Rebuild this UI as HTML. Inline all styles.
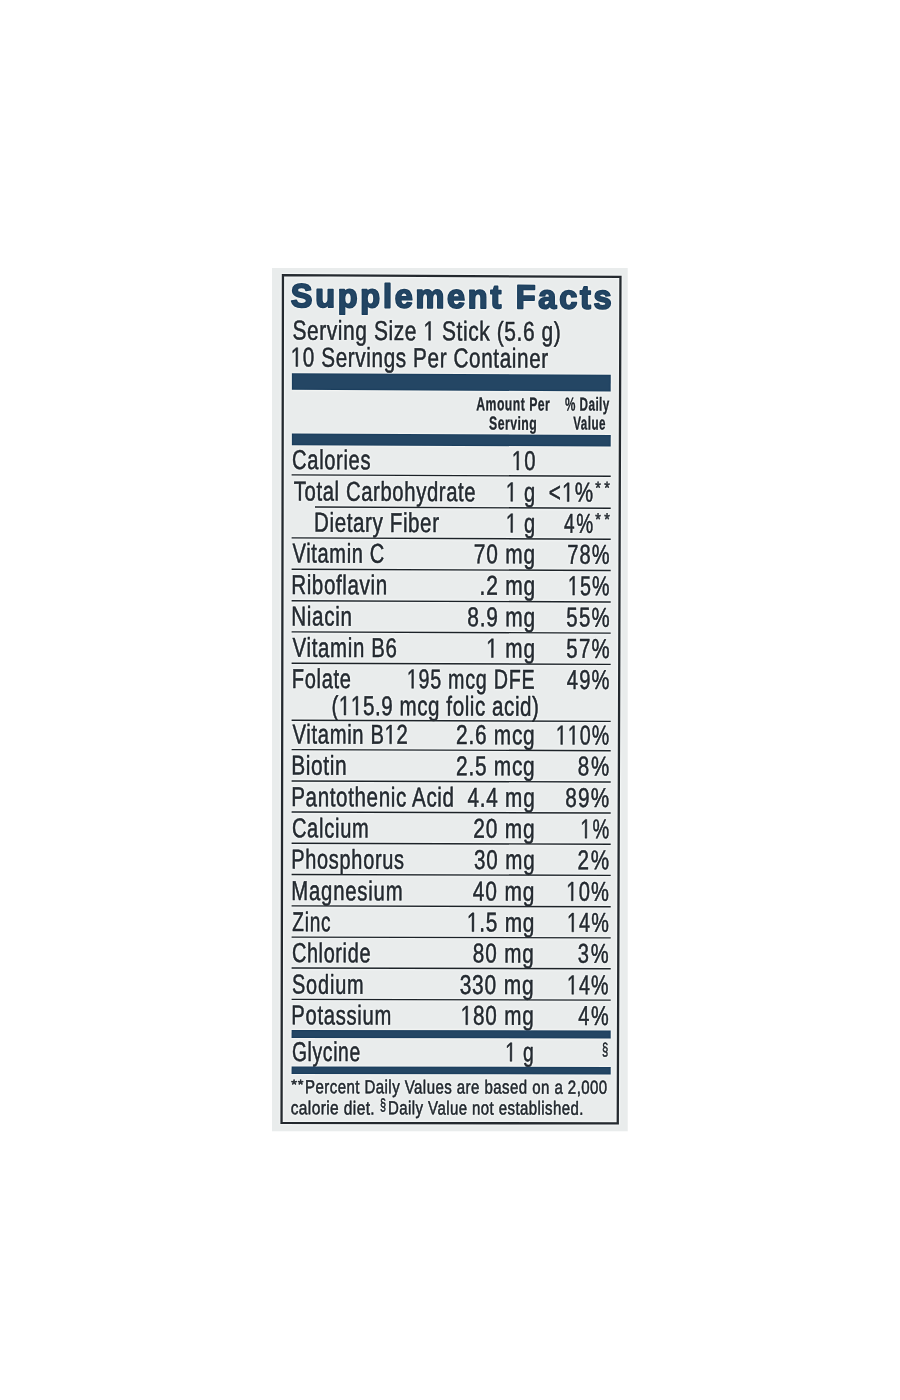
<!DOCTYPE html>
<html><head><meta charset="utf-8"><style>
html,body{margin:0;padding:0;background:#ffffff;width:900px;height:1400px;overflow:hidden}
svg{display:block}
text{font-family:"Liberation Sans",sans-serif}
</style></head><body>
<svg width="900" height="1400" viewBox="0 0 900 1400">
<defs><filter id="f" x="0" y="0" width="900" height="1400" filterUnits="userSpaceOnUse" color-interpolation-filters="sRGB">
<feGaussianBlur in="SourceGraphic" stdDeviation="0.35" result="s"/>
<feGaussianBlur in="s" stdDeviation="1.0" result="b"/>
<feComposite in="s" in2="b" operator="arithmetic" k1="0" k2="1.15" k3="-0.15" k4="0"/>
</filter></defs>
<clipPath id="c"><rect x="272" y="268" width="355.7" height="863.2"/></clipPath>
<g clip-path="url(#c)"><g filter="url(#f)">
<rect x="262" y="258" width="376" height="884" fill="#e9ecec"/>
<g>
<polygon points="282.95,275.16 620.45,276.95 617.76,1123.45 281.55,1122.86" fill="none" stroke="#2e3338" stroke-width="2.3" stroke-linejoin="miter"/>
<g transform="matrix(1.00311 0.00518 -0.00170 1.00422 290.82 306.99) scale(0.9799 1)"><text font-size="33.0" font-weight="bold" fill="#244664" stroke="#244664" stroke-width="1.8" stroke-linejoin="round" letter-spacing="2.808">Supplement Facts</text></g>
<g transform="matrix(1.00294 0.00504 -0.00170 1.00392 292.47 339.60) scale(0.7645 1)"><text font-size="27.3" font-weight="normal" fill="#2c3238" stroke="#2c3238" stroke-width="0.55" stroke-linejoin="round" letter-spacing="0.771">Serving Size   Stick (5.6 g)</text><path d="M177.64,0.00 L177.64,-16.49 L173.40,-13.46 L173.40,-15.73 L177.84,-18.78 L180.06,-18.78 L180.06,0.00 Z" fill="#2c3238" stroke="#2c3238" stroke-width="0.55" stroke-linejoin="round"/></g>
<g transform="matrix(1.00284 0.00493 -0.00169 1.00368 290.73 366.49) scale(0.7543 1)"><text font-size="27.3" font-weight="normal" fill="#2c3238" stroke="#2c3238" stroke-width="0.55" stroke-linejoin="round" letter-spacing="0.843"> 0 Servings Per Container</text><path d="M6.86,0.00 L6.86,-16.49 L2.63,-13.46 L2.63,-15.73 L7.06,-18.78 L9.28,-18.78 L9.28,0.00 Z" fill="#2c3238" stroke="#2c3238" stroke-width="0.55" stroke-linejoin="round"/></g>
<polygon points="291.90,373.15 610.75,374.71 610.70,391.39 291.87,389.85" fill="#244664"/>
<g transform="matrix(1.00110 0.00474 -0.00253 1.00252 476.25 410.20) scale(0.6564 1)"><text font-size="18.6" font-weight="bold" fill="#2c3238" stroke="#2c3238" stroke-width="0.35" stroke-linejoin="round" letter-spacing="0.742">Amount Per</text></g>
<g transform="matrix(1.00091 0.00466 -0.00259 1.00229 489.09 429.50) scale(0.6562 1)"><text font-size="18.6" font-weight="bold" fill="#2c3238" stroke="#2c3238" stroke-width="0.35" stroke-linejoin="round" letter-spacing="0.707">Serving</text></g>
<g transform="matrix(1.00036 0.00474 -0.00293 1.00215 565.06 410.40) scale(0.6292 1)"><text font-size="18.6" font-weight="bold" fill="#2c3238" stroke="#2c3238" stroke-width="0.35" stroke-linejoin="round" letter-spacing="0.698">% Daily</text></g>
<g transform="matrix(1.00021 0.00466 -0.00297 1.00194 573.27 429.50) scale(0.6245 1)"><text font-size="18.6" font-weight="bold" fill="#2c3238" stroke="#2c3238" stroke-width="0.35" stroke-linejoin="round" letter-spacing="0.764">Value</text></g>
<polygon points="291.90,433.55 610.73,435.03 610.70,446.62 291.88,445.15" fill="#244664"/>
<g transform="matrix(1.00236 0.00450 -0.00170 1.00275 292.11 469.00) scale(0.7363 1)"><text font-size="27.25" font-weight="normal" fill="#2c3238" stroke="#2c3238" stroke-width="0.55" stroke-linejoin="round" letter-spacing="0.890">Calories</text></g>
<g transform="matrix(1.00054 0.00449 -0.00269 1.00183 511.77 469.98) scale(0.7409 1)"><text font-size="27.25" font-weight="normal" fill="#2c3238" stroke="#2c3238" stroke-width="0.55" stroke-linejoin="round" letter-spacing="1.698"> 0</text><path d="M6.85,0.00 L6.85,-16.46 L2.62,-13.44 L2.62,-15.70 L7.05,-18.75 L9.26,-18.75 L9.26,0.00 Z" fill="#2c3238" stroke="#2c3238" stroke-width="0.55" stroke-linejoin="round"/></g>
<g transform="matrix(1.00220 0.00437 -0.00171 1.00246 293.76 500.40) scale(0.7414 1)"><text font-size="27.25" font-weight="normal" fill="#2c3238" stroke="#2c3238" stroke-width="0.55" stroke-linejoin="round" letter-spacing="0.858">Total Carbohydrate</text></g>
<g transform="matrix(1.00044 0.00436 -0.00267 1.00157 505.79 501.32) scale(0.7360 1)"><text font-size="27.25" font-weight="normal" fill="#2c3238" stroke="#2c3238" stroke-width="0.55" stroke-linejoin="round" letter-spacing="1.071">  g</text><path d="M6.85,0.00 L6.85,-16.46 L2.62,-13.44 L2.62,-15.70 L7.05,-18.75 L9.26,-18.75 L9.26,0.00 Z" fill="#2c3238" stroke="#2c3238" stroke-width="0.55" stroke-linejoin="round"/></g>
<g transform="matrix(1.00009 0.00436 -0.00286 1.00139 548.68 501.51) scale(0.7595 1)"><text font-size="27.25" font-weight="normal" fill="#2c3238" stroke="#2c3238" stroke-width="0.55" stroke-linejoin="round" letter-spacing="1.689">&lt; %</text><path d="M24.43,0.00 L24.43,-16.46 L20.20,-13.44 L20.20,-15.70 L24.63,-18.75 L26.84,-18.75 L26.84,0.00 Z" fill="#2c3238" stroke="#2c3238" stroke-width="0.55" stroke-linejoin="round"/></g>
<g transform="matrix(1.00189 0.00424 -0.00180 1.00209 314.02 531.59) scale(0.7529 1)"><text font-size="27.25" font-weight="normal" fill="#2c3238" stroke="#2c3238" stroke-width="0.55" stroke-linejoin="round" letter-spacing="0.815">Dietary Fiber</text></g>
<g transform="matrix(1.00030 0.00423 -0.00266 1.00129 505.79 532.40) scale(0.7360 1)"><text font-size="27.25" font-weight="normal" fill="#2c3238" stroke="#2c3238" stroke-width="0.55" stroke-linejoin="round" letter-spacing="1.071">  g</text><path d="M6.85,0.00 L6.85,-16.46 L2.62,-13.44 L2.62,-15.70 L7.05,-18.75 L9.26,-18.75 L9.26,0.00 Z" fill="#2c3238" stroke="#2c3238" stroke-width="0.55" stroke-linejoin="round"/></g>
<g transform="matrix(0.99982 0.00423 -0.00293 1.00105 563.99 532.65) scale(0.6991 1)"><text font-size="27.25" font-weight="normal" fill="#2c3238" stroke="#2c3238" stroke-width="0.55" stroke-linejoin="round" letter-spacing="2.409">4%</text></g>
<g transform="matrix(1.00193 0.00411 -0.00170 1.00190 292.51 562.50) scale(0.7329 1)"><text font-size="27.25" font-weight="normal" fill="#2c3238" stroke="#2c3238" stroke-width="0.55" stroke-linejoin="round" letter-spacing="0.929">Vitamin C</text></g>
<g transform="matrix(1.00043 0.00410 -0.00252 1.00114 473.72 563.24) scale(0.7640 1)"><text font-size="27.25" font-weight="normal" fill="#2c3238" stroke="#2c3238" stroke-width="0.55" stroke-linejoin="round" letter-spacing="1.158">70 mg</text></g>
<g transform="matrix(0.99965 0.00410 -0.00294 1.00075 567.16 563.63) scale(0.7354 1)"><text font-size="27.25" font-weight="normal" fill="#2c3238" stroke="#2c3238" stroke-width="0.55" stroke-linejoin="round" letter-spacing="1.663">78%</text></g>
<g transform="matrix(1.00180 0.00398 -0.00169 1.00162 291.22 593.99) scale(0.7535 1)"><text font-size="27.25" font-weight="normal" fill="#2c3238" stroke="#2c3238" stroke-width="0.55" stroke-linejoin="round" letter-spacing="0.820">Riboflavin</text></g>
<g transform="matrix(1.00024 0.00397 -0.00255 1.00083 479.58 594.74) scale(0.7689 1)"><text font-size="27.25" font-weight="normal" fill="#2c3238" stroke="#2c3238" stroke-width="0.55" stroke-linejoin="round" letter-spacing="1.020">.2 mg</text></g>
<g transform="matrix(0.99950 0.00397 -0.00294 1.00047 567.82 595.09) scale(0.7230 1)"><text font-size="27.25" font-weight="normal" fill="#2c3238" stroke="#2c3238" stroke-width="0.55" stroke-linejoin="round" letter-spacing="1.625"> 5%</text><path d="M6.85,0.00 L6.85,-16.46 L2.62,-13.44 L2.62,-15.70 L7.05,-18.75 L9.26,-18.75 L9.26,0.00 Z" fill="#2c3238" stroke="#2c3238" stroke-width="0.55" stroke-linejoin="round"/></g>
<g transform="matrix(1.00166 0.00385 -0.00169 1.00133 291.21 625.49) scale(0.7551 1)"><text font-size="27.25" font-weight="normal" fill="#2c3238" stroke="#2c3238" stroke-width="0.55" stroke-linejoin="round" letter-spacing="0.915">Niacin</text></g>
<g transform="matrix(1.00020 0.00384 -0.00249 1.00060 467.33 626.17) scale(0.7667 1)"><text font-size="27.25" font-weight="normal" fill="#2c3238" stroke="#2c3238" stroke-width="0.55" stroke-linejoin="round" letter-spacing="1.026">8.9 mg</text></g>
<g transform="matrix(0.99937 0.00384 -0.00294 1.00019 566.30 626.55) scale(0.7485 1)"><text font-size="27.25" font-weight="normal" fill="#2c3238" stroke="#2c3238" stroke-width="0.55" stroke-linejoin="round" letter-spacing="1.674">55%</text></g>
<g transform="matrix(1.00151 0.00372 -0.00170 1.00105 292.51 656.80) scale(0.7475 1)"><text font-size="27.25" font-weight="normal" fill="#2c3238" stroke="#2c3238" stroke-width="0.55" stroke-linejoin="round" letter-spacing="0.922">Vitamin B6</text></g>
<g transform="matrix(0.99990 0.00371 -0.00257 1.00024 486.22 657.52) scale(0.7617 1)"><text font-size="27.25" font-weight="normal" fill="#2c3238" stroke="#2c3238" stroke-width="0.55" stroke-linejoin="round" letter-spacing="1.197">  mg</text><path d="M6.85,0.00 L6.85,-16.46 L2.62,-13.44 L2.62,-15.70 L7.05,-18.75 L9.26,-18.75 L9.26,0.00 Z" fill="#2c3238" stroke="#2c3238" stroke-width="0.55" stroke-linejoin="round"/></g>
<g transform="matrix(0.99923 0.00371 -0.00294 0.99990 566.30 657.82) scale(0.7485 1)"><text font-size="27.25" font-weight="normal" fill="#2c3238" stroke="#2c3238" stroke-width="0.55" stroke-linejoin="round" letter-spacing="1.674">57%</text></g>
<g transform="matrix(1.00137 0.00359 -0.00170 1.00077 291.86 687.89) scale(0.7344 1)"><text font-size="27.25" font-weight="normal" fill="#2c3238" stroke="#2c3238" stroke-width="0.55" stroke-linejoin="round" letter-spacing="0.923">Folate</text></g>
<g transform="matrix(1.00041 0.00358 -0.00222 1.00029 406.82 688.31) scale(0.7219 1)"><text font-size="27.25" font-weight="normal" fill="#2c3238" stroke="#2c3238" stroke-width="0.55" stroke-linejoin="round" letter-spacing="1.039"> 95 mcg DFE</text><path d="M6.85,0.00 L6.85,-16.46 L2.62,-13.44 L2.62,-15.70 L7.05,-18.75 L9.26,-18.75 L9.26,0.00 Z" fill="#2c3238" stroke="#2c3238" stroke-width="0.55" stroke-linejoin="round"/></g>
<g transform="matrix(0.99909 0.00358 -0.00294 0.99962 566.66 688.88) scale(0.7418 1)"><text font-size="27.25" font-weight="normal" fill="#2c3238" stroke="#2c3238" stroke-width="0.55" stroke-linejoin="round" letter-spacing="1.689">49%</text></g>
<g transform="matrix(1.00111 0.00335 -0.00170 1.00026 292.51 743.50) scale(0.7400 1)"><text font-size="27.25" font-weight="normal" fill="#2c3238" stroke="#2c3238" stroke-width="0.55" stroke-linejoin="round" letter-spacing="0.925">Vitamin B 2</text><path d="M131.21,0.00 L131.21,-16.46 L126.98,-13.44 L126.98,-15.70 L131.41,-18.75 L133.62,-18.75 L133.62,0.00 Z" fill="#2c3238" stroke="#2c3238" stroke-width="0.55" stroke-linejoin="round"/></g>
<g transform="matrix(0.99975 0.00335 -0.00244 0.99958 456.07 744.05) scale(0.7643 1)"><text font-size="27.25" font-weight="normal" fill="#2c3238" stroke="#2c3238" stroke-width="0.55" stroke-linejoin="round" letter-spacing="0.998">2.6 mcg</text></g>
<g transform="matrix(0.99893 0.00335 -0.00289 0.99916 555.82 744.38) scale(0.7226 1)"><text font-size="27.25" font-weight="normal" fill="#2c3238" stroke="#2c3238" stroke-width="0.55" stroke-linejoin="round" letter-spacing="1.405">  0%</text><path d="M6.85,0.00 L6.85,-16.46 L2.62,-13.44 L2.62,-15.70 L7.05,-18.75 L9.26,-18.75 L9.26,0.00 Z" fill="#2c3238" stroke="#2c3238" stroke-width="0.55" stroke-linejoin="round"/><path d="M23.40,0.00 L23.40,-16.46 L19.17,-13.44 L19.17,-15.70 L23.60,-18.75 L25.81,-18.75 L25.81,0.00 Z" fill="#2c3238" stroke="#2c3238" stroke-width="0.55" stroke-linejoin="round"/></g>
<g transform="matrix(1.00098 0.00322 -0.00169 0.99998 291.19 774.59) scale(0.7665 1)"><text font-size="27.25" font-weight="normal" fill="#2c3238" stroke="#2c3238" stroke-width="0.55" stroke-linejoin="round" letter-spacing="0.818">Biotin</text></g>
<g transform="matrix(0.99961 0.00322 -0.00244 0.99930 456.07 775.13) scale(0.7643 1)"><text font-size="27.25" font-weight="normal" fill="#2c3238" stroke="#2c3238" stroke-width="0.55" stroke-linejoin="round" letter-spacing="0.998">2.5 mcg</text></g>
<g transform="matrix(0.99860 0.00322 -0.00299 0.99879 577.74 775.52) scale(0.7549 1)"><text font-size="27.25" font-weight="normal" fill="#2c3238" stroke="#2c3238" stroke-width="0.55" stroke-linejoin="round" letter-spacing="2.374">8%</text></g>
<g transform="matrix(1.00084 0.00309 -0.00169 0.99970 291.22 806.09) scale(0.7545 1)"><text font-size="27.25" font-weight="normal" fill="#2c3238" stroke="#2c3238" stroke-width="0.55" stroke-linejoin="round" letter-spacing="0.847">Pantothenic Acid</text></g>
<g transform="matrix(0.99938 0.00309 -0.00249 0.99897 467.45 806.64) scale(0.7604 1)"><text font-size="27.25" font-weight="normal" fill="#2c3238" stroke="#2c3238" stroke-width="0.55" stroke-linejoin="round" letter-spacing="1.033">4.4 mg</text></g>
<g transform="matrix(0.99857 0.00309 -0.00293 0.99856 565.13 806.94) scale(0.7620 1)"><text font-size="27.25" font-weight="normal" fill="#2c3238" stroke="#2c3238" stroke-width="0.55" stroke-linejoin="round" letter-spacing="1.672">89%</text></g>
<g transform="matrix(1.00069 0.00296 -0.00170 0.99941 291.91 837.30) scale(0.7345 1)"><text font-size="27.25" font-weight="normal" fill="#2c3238" stroke="#2c3238" stroke-width="0.55" stroke-linejoin="round" letter-spacing="1.014">Calcium</text></g>
<g transform="matrix(0.99919 0.00296 -0.00251 0.99866 473.17 837.83) scale(0.7659 1)"><text font-size="27.25" font-weight="normal" fill="#2c3238" stroke="#2c3238" stroke-width="0.55" stroke-linejoin="round" letter-spacing="1.159">20 mg</text></g>
<g transform="matrix(0.99830 0.00296 -0.00300 0.99821 580.41 838.15) scale(0.6911 1)"><text font-size="27.25" font-weight="normal" fill="#2c3238" stroke="#2c3238" stroke-width="0.55" stroke-linejoin="round" letter-spacing="2.281"> %</text><path d="M6.85,0.00 L6.85,-16.46 L2.62,-13.44 L2.62,-15.70 L7.05,-18.75 L9.26,-18.75 L9.26,0.00 Z" fill="#2c3238" stroke="#2c3238" stroke-width="0.55" stroke-linejoin="round"/></g>
<g transform="matrix(1.00056 0.00283 -0.00169 0.99913 291.27 868.50) scale(0.7300 1)"><text font-size="27.25" font-weight="normal" fill="#2c3238" stroke="#2c3238" stroke-width="0.55" stroke-linejoin="round" letter-spacing="1.009">Phosphorus</text></g>
<g transform="matrix(0.99904 0.00283 -0.00252 0.99837 474.04 869.01) scale(0.7546 1)"><text font-size="27.25" font-weight="normal" fill="#2c3238" stroke="#2c3238" stroke-width="0.55" stroke-linejoin="round" letter-spacing="1.164">30 mg</text></g>
<g transform="matrix(0.99818 0.00283 -0.00298 0.99794 577.58 869.31) scale(0.7590 1)"><text font-size="27.25" font-weight="normal" fill="#2c3238" stroke="#2c3238" stroke-width="0.55" stroke-linejoin="round" letter-spacing="2.361">2%</text></g>
<g transform="matrix(1.00041 0.00270 -0.00169 0.99885 291.24 900.00) scale(0.7440 1)"><text font-size="27.25" font-weight="normal" fill="#2c3238" stroke="#2c3238" stroke-width="0.55" stroke-linejoin="round" letter-spacing="1.091">Magnesium</text></g>
<g transform="matrix(0.99891 0.00270 -0.00251 0.99809 472.64 900.49) scale(0.7683 1)"><text font-size="27.25" font-weight="normal" fill="#2c3238" stroke="#2c3238" stroke-width="0.55" stroke-linejoin="round" letter-spacing="1.171">40 mg</text></g>
<g transform="matrix(0.99813 0.00270 -0.00293 0.99771 566.28 900.74) scale(0.7396 1)"><text font-size="27.25" font-weight="normal" fill="#2c3238" stroke="#2c3238" stroke-width="0.55" stroke-linejoin="round" letter-spacing="1.625"> 0%</text><path d="M6.85,0.00 L6.85,-16.46 L2.62,-13.44 L2.62,-15.70 L7.05,-18.75 L9.26,-18.75 L9.26,0.00 Z" fill="#2c3238" stroke="#2c3238" stroke-width="0.55" stroke-linejoin="round"/></g>
<g transform="matrix(1.00026 0.00257 -0.00170 0.99856 292.30 931.10) scale(0.6988 1)"><text font-size="27.25" font-weight="normal" fill="#2c3238" stroke="#2c3238" stroke-width="0.55" stroke-linejoin="round" letter-spacing="1.061">Zinc</text></g>
<g transform="matrix(0.99882 0.00257 -0.00248 0.99784 466.81 931.55) scale(0.7655 1)"><text font-size="27.25" font-weight="normal" fill="#2c3238" stroke="#2c3238" stroke-width="0.55" stroke-linejoin="round" letter-spacing="1.008"> .5 mg</text><path d="M6.85,0.00 L6.85,-16.46 L2.62,-13.44 L2.62,-15.70 L7.05,-18.75 L9.26,-18.75 L9.26,0.00 Z" fill="#2c3238" stroke="#2c3238" stroke-width="0.55" stroke-linejoin="round"/></g>
<g transform="matrix(0.99799 0.00257 -0.00294 0.99742 566.91 931.80) scale(0.7286 1)"><text font-size="27.25" font-weight="normal" fill="#2c3238" stroke="#2c3238" stroke-width="0.55" stroke-linejoin="round" letter-spacing="1.625"> 4%</text><path d="M6.85,0.00 L6.85,-16.46 L2.62,-13.44 L2.62,-15.70 L7.05,-18.75 L9.26,-18.75 L9.26,0.00 Z" fill="#2c3238" stroke="#2c3238" stroke-width="0.55" stroke-linejoin="round"/></g>
<g transform="matrix(1.00013 0.00244 -0.00170 0.99828 291.92 962.10) scale(0.7286 1)"><text font-size="27.25" font-weight="normal" fill="#2c3238" stroke="#2c3238" stroke-width="0.55" stroke-linejoin="round" letter-spacing="0.902">Chloride</text></g>
<g transform="matrix(0.99863 0.00244 -0.00251 0.99753 472.84 962.54) scale(0.7586 1)"><text font-size="27.25" font-weight="normal" fill="#2c3238" stroke="#2c3238" stroke-width="0.55" stroke-linejoin="round" letter-spacing="1.162">80 mg</text></g>
<g transform="matrix(0.99775 0.00244 -0.00298 0.99710 577.86 962.80) scale(0.7395 1)"><text font-size="27.25" font-weight="normal" fill="#2c3238" stroke="#2c3238" stroke-width="0.55" stroke-linejoin="round" letter-spacing="2.383">3%</text></g>
<g transform="matrix(0.99998 0.00231 -0.00170 0.99800 292.02 993.60) scale(0.7296 1)"><text font-size="27.25" font-weight="normal" fill="#2c3238" stroke="#2c3238" stroke-width="0.55" stroke-linejoin="round" letter-spacing="1.141">Sodium</text></g>
<g transform="matrix(0.99859 0.00231 -0.00245 0.99730 459.63 993.99) scale(0.7685 1)"><text font-size="27.25" font-weight="normal" fill="#2c3238" stroke="#2c3238" stroke-width="0.55" stroke-linejoin="round" letter-spacing="1.125">330 mg</text></g>
<g transform="matrix(0.99770 0.00231 -0.00293 0.99686 566.92 994.23) scale(0.7230 1)"><text font-size="27.25" font-weight="normal" fill="#2c3238" stroke="#2c3238" stroke-width="0.55" stroke-linejoin="round" letter-spacing="1.625"> 4%</text><path d="M6.85,0.00 L6.85,-16.46 L2.62,-13.44 L2.62,-15.70 L7.05,-18.75 L9.26,-18.75 L9.26,0.00 Z" fill="#2c3238" stroke="#2c3238" stroke-width="0.55" stroke-linejoin="round"/></g>
<g transform="matrix(0.99985 0.00219 -0.00169 0.99772 291.25 1024.30) scale(0.7408 1)"><text font-size="27.25" font-weight="normal" fill="#2c3238" stroke="#2c3238" stroke-width="0.55" stroke-linejoin="round" letter-spacing="0.983">Potassium</text></g>
<g transform="matrix(0.99844 0.00218 -0.00246 0.99702 460.63 1024.67) scale(0.7588 1)"><text font-size="27.25" font-weight="normal" fill="#2c3238" stroke="#2c3238" stroke-width="0.55" stroke-linejoin="round" letter-spacing="1.105"> 80 mg</text><path d="M6.85,0.00 L6.85,-16.46 L2.62,-13.44 L2.62,-15.70 L7.05,-18.75 L9.26,-18.75 L9.26,0.00 Z" fill="#2c3238" stroke="#2c3238" stroke-width="0.55" stroke-linejoin="round"/></g>
<g transform="matrix(0.99747 0.00218 -0.00298 0.99653 578.17 1024.92) scale(0.7315 1)"><text font-size="27.25" font-weight="normal" fill="#2c3238" stroke="#2c3238" stroke-width="0.55" stroke-linejoin="round" letter-spacing="2.409">4%</text></g>
<g transform="matrix(0.99968 0.00203 -0.00169 0.99739 291.95 1060.90) scale(0.7077 1)"><text font-size="27.25" font-weight="normal" fill="#2c3238" stroke="#2c3238" stroke-width="0.55" stroke-linejoin="round" letter-spacing="0.939">Glycine</text></g>
<g transform="matrix(0.99791 0.00203 -0.00266 0.99651 505.26 1061.33) scale(0.7107 1)"><text font-size="27.25" font-weight="normal" fill="#2c3238" stroke="#2c3238" stroke-width="0.55" stroke-linejoin="round" letter-spacing="1.071">  g</text><path d="M6.85,0.00 L6.85,-16.46 L2.62,-13.44 L2.62,-15.70 L7.05,-18.75 L9.26,-18.75 L9.26,0.00 Z" fill="#2c3238" stroke="#2c3238" stroke-width="0.55" stroke-linejoin="round"/></g>
<g transform="matrix(1.00092 0.00347 -0.00188 1.00036 331.43 715.00) scale(0.7536 1)"><text font-size="27.25" font-weight="normal" fill="#2c3238" stroke="#2c3238" stroke-width="0.55" stroke-linejoin="round" letter-spacing="0.777">(  5.9 mcg folic acid)</text><path d="M16.69,0.00 L16.69,-16.46 L12.46,-13.44 L12.46,-15.70 L16.89,-18.75 L19.10,-18.75 L19.10,0.00 Z" fill="#2c3238" stroke="#2c3238" stroke-width="0.55" stroke-linejoin="round"/><path d="M32.60,0.00 L32.60,-16.46 L28.37,-13.44 L28.37,-15.70 L32.80,-18.75 L35.01,-18.75 L35.01,0.00 Z" fill="#2c3238" stroke="#2c3238" stroke-width="0.55" stroke-linejoin="round"/></g>
<g transform="matrix(0.99974 0.00439 -0.00307 1.00127 595.37 493.60) scale(0.8401 1)"><text font-size="17" font-weight="normal" fill="#2c3238" stroke="#2c3238" stroke-width="0.55" stroke-linejoin="round">*</text></g>
<g transform="matrix(0.99966 0.00439 -0.00311 1.00123 604.37 493.60) scale(0.8401 1)"><text font-size="17" font-weight="normal" fill="#2c3238" stroke="#2c3238" stroke-width="0.55" stroke-linejoin="round">*</text></g>
<g transform="matrix(0.99959 0.00426 -0.00307 1.00099 595.37 524.90) scale(0.8401 1)"><text font-size="17" font-weight="normal" fill="#2c3238" stroke="#2c3238" stroke-width="0.55" stroke-linejoin="round">*</text></g>
<g transform="matrix(0.99952 0.00426 -0.00311 1.00095 604.37 524.90) scale(0.8401 1)"><text font-size="17" font-weight="normal" fill="#2c3238" stroke="#2c3238" stroke-width="0.55" stroke-linejoin="round">*</text></g>
<g transform="matrix(0.99714 0.00205 -0.00309 0.99616 601.97 1055.30) scale(0.6418 1)"><text font-size="17.5" font-weight="normal" fill="#2c3238" stroke="#2c3238" stroke-width="0.55" stroke-linejoin="round">§</text></g>
<polygon points="291.60,474.15 610.70,475.58 610.69,476.98 291.60,475.56" fill="#2c3237"/>
<polygon points="291.60,537.16 610.70,538.50 610.69,539.90 291.60,538.56" fill="#2c3237"/>
<polygon points="291.60,568.51 610.70,569.81 610.69,571.21 291.60,569.91" fill="#2c3237"/>
<polygon points="291.60,600.01 610.70,601.27 610.69,602.67 291.60,601.41" fill="#2c3237"/>
<polygon points="291.60,631.16 610.70,632.38 610.69,633.78 291.60,632.56" fill="#2c3237"/>
<polygon points="291.60,662.51 610.70,663.69 610.69,665.09 291.60,663.91" fill="#2c3237"/>
<polygon points="291.60,719.57 610.70,720.67 610.69,722.06 291.60,720.97" fill="#2c3237"/>
<polygon points="291.60,748.92 610.70,749.98 610.69,751.38 291.60,750.32" fill="#2c3237"/>
<polygon points="291.60,780.27 610.70,781.29 610.69,782.69 291.60,781.67" fill="#2c3237"/>
<polygon points="291.60,811.37 610.70,812.35 610.69,813.75 291.60,812.77" fill="#2c3237"/>
<polygon points="291.60,842.57 610.70,843.51 610.69,844.91 291.60,843.97" fill="#2c3237"/>
<polygon points="291.60,873.77 610.70,874.67 610.70,876.07 291.60,875.17" fill="#2c3237"/>
<polygon points="291.60,905.17 610.70,906.03 610.70,907.43 291.60,906.57" fill="#2c3237"/>
<polygon points="291.60,936.38 610.70,937.19 610.70,938.59 291.60,937.77" fill="#2c3237"/>
<polygon points="291.60,967.28 610.70,968.05 610.70,969.45 291.60,968.67" fill="#2c3237"/>
<polygon points="291.60,998.68 610.70,999.41 610.70,1000.81 291.60,1000.08" fill="#2c3237"/>
<polygon points="315.00,506.26 610.70,507.54 610.69,508.94 315.00,507.66" fill="#2c3237"/>
<polygon points="291.60,1029.88 610.72,1030.57 610.70,1038.56 291.59,1037.88" fill="#244664"/>
<polygon points="291.60,1066.38 610.72,1067.02 610.70,1074.51 291.59,1073.88" fill="#244664"/>
<g transform="matrix(0.99956 0.00192 -0.00169 0.99714 291.16 1089.00) scale(1.0788 1)"><text font-size="13.5" font-weight="normal" fill="#2c3238" stroke="#2c3238" stroke-width="0.55" stroke-linejoin="round">*</text></g>
<g transform="matrix(0.99950 0.00192 -0.00172 0.99711 297.86 1089.00) scale(1.0788 1)"><text font-size="13.5" font-weight="normal" fill="#2c3238" stroke="#2c3238" stroke-width="0.55" stroke-linejoin="round">*</text></g>
<g transform="matrix(0.99942 0.00190 -0.00175 0.99704 304.98 1093.20) scale(0.7910 1)"><text font-size="19.0" font-weight="normal" fill="#2c3238" stroke="#2c3238" stroke-width="0.55" stroke-linejoin="round" letter-spacing="0.571">Percent Daily Values are based on a 2,000</text></g>
<g transform="matrix(0.99945 0.00181 -0.00169 0.99691 290.66 1114.30) scale(0.8153 1)"><text font-size="19.0" font-weight="normal" fill="#2c3238" stroke="#2c3238" stroke-width="0.55" stroke-linejoin="round" letter-spacing="0.503">calorie diet.</text></g>
<g transform="matrix(0.99872 0.00183 -0.00209 0.99658 380.10 1110.20) scale(0.6533 1)"><text font-size="16.5" font-weight="normal" fill="#2c3238" stroke="#2c3238" stroke-width="0.55" stroke-linejoin="round">§</text></g>
<g transform="matrix(0.99864 0.00181 -0.00213 0.99651 388.08 1114.30) scale(0.7901 1)"><text font-size="19.0" font-weight="normal" fill="#2c3238" stroke="#2c3238" stroke-width="0.55" stroke-linejoin="round" letter-spacing="0.543">Daily Value not established.</text></g>
</g>
</g></g>
</svg>
</body></html>
